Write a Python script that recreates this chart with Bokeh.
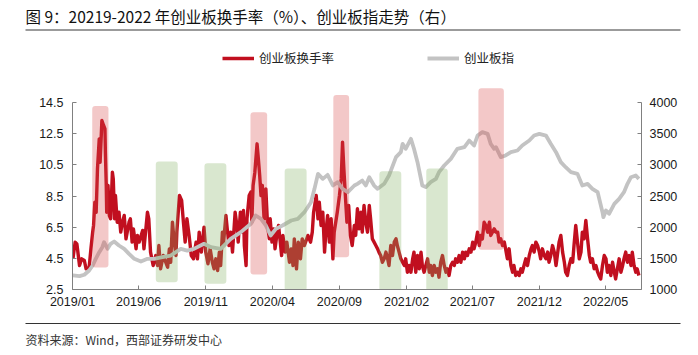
import pandas as pd
from bokeh.plotting import figure
from bokeh.layouts import column
from bokeh.models import (Range1d, LinearAxis, FixedTicker, DatetimeTickFormatter,
                          Label, Legend, LegendItem, ColumnDataSource)
from bokeh.embed import file_html
from bokeh.resources import INLINE

# ---------------- data ----------------
turnover_dates = [
    "2019-01-02", "2019-01-07", "2019-01-11", "2019-01-17", "2019-01-22", "2019-01-28", "2019-02-01", "2019-02-08",
    "2019-02-12", "2019-02-16", "2019-02-18", "2019-02-21", "2019-02-24", "2019-02-27", "2019-03-03", "2019-03-05",
    "2019-03-07", "2019-03-09", "2019-03-13", "2019-03-16", "2019-03-17", "2019-03-19", "2019-03-20", "2019-03-23",
    "2019-03-26", "2019-03-29", "2019-04-02", "2019-04-04", "2019-04-07", "2019-04-09", "2019-04-13", "2019-04-17",
    "2019-04-21", "2019-04-25", "2019-04-29", "2019-05-03", "2019-05-10", "2019-05-13", "2019-05-17", "2019-05-20",
    "2019-05-23", "2019-05-26", "2019-05-29", "2019-06-02", "2019-06-10", "2019-06-13", "2019-06-21", "2019-06-24",
    "2019-06-28", "2019-07-04", "2019-07-10", "2019-07-14", "2019-07-17", "2019-07-21", "2019-07-27", "2019-08-06",
    "2019-08-10", "2019-08-13", "2019-08-17", "2019-08-21", "2019-08-25", "2019-08-27", "2019-09-02", "2019-09-07",
    "2019-09-11", "2019-09-15", "2019-09-19", "2019-09-24", "2019-09-29", "2019-10-04", "2019-10-10", "2019-10-13",
    "2019-10-17", "2019-10-22", "2019-10-28", "2019-11-01", "2019-11-06", "2019-11-11", "2019-11-16", "2019-11-20",
    "2019-11-24", "2019-11-28", "2019-12-02", "2019-12-05", "2019-12-09", "2019-12-11", "2019-12-17", "2019-12-20",
    "2019-12-24", "2019-12-28", "2020-01-01", "2020-01-07", "2020-01-11", "2020-01-14", "2020-01-19", "2020-01-22",
    "2020-01-26", "2020-01-28", "2020-02-01", "2020-02-03", "2020-02-08", "2020-02-12", "2020-02-14", "2020-02-17",
    "2020-02-21", "2020-02-26", "2020-02-29", "2020-03-03", "2020-03-06", "2020-03-09", "2020-03-13", "2020-03-17",
    "2020-03-21", "2020-03-25", "2020-03-27", "2020-03-31", "2020-04-04", "2020-04-07", "2020-04-11", "2020-04-15",
    "2020-04-19", "2020-04-22", "2020-04-25", "2020-04-30", "2020-05-04", "2020-05-10", "2020-05-14", "2020-05-18",
    "2020-05-21", "2020-05-26", "2020-05-30", "2020-06-04", "2020-06-08", "2020-06-13", "2020-06-21", "2020-06-27",
    "2020-07-01", "2020-07-04", "2020-07-10", "2020-07-14", "2020-07-17", "2020-07-21", "2020-07-25", "2020-07-29",
    "2020-08-01", "2020-08-05", "2020-08-09", "2020-08-13", "2020-08-17", "2020-08-20", "2020-08-27", "2020-09-01",
    "2020-09-05", "2020-09-08", "2020-09-11", "2020-09-14", "2020-09-18", "2020-09-22", "2020-09-26", "2020-09-30",
    "2020-10-05", "2020-10-08", "2020-10-12", "2020-10-16", "2020-10-20", "2020-10-23", "2020-10-27", "2020-10-31",
    "2020-11-04", "2020-11-08", "2020-11-11", "2020-11-15", "2020-11-19", "2020-11-23", "2020-11-27", "2020-11-30",
    "2020-12-04", "2020-12-08", "2020-12-12", "2020-12-16", "2020-12-20", "2020-12-23", "2020-12-27", "2020-12-31",
    "2021-01-04", "2021-01-08", "2021-01-11", "2021-01-15", "2021-01-19", "2021-01-23", "2021-01-27", "2021-01-30",
    "2021-02-03", "2021-02-07", "2021-02-11", "2021-02-15", "2021-02-18", "2021-02-22", "2021-02-26", "2021-03-02",
    "2021-03-06", "2021-03-09", "2021-03-13", "2021-03-17", "2021-03-21", "2021-03-25", "2021-03-28", "2021-04-01",
    "2021-04-05", "2021-04-09", "2021-04-13", "2021-04-16", "2021-04-20", "2021-04-24", "2021-04-28", "2021-05-02",
    "2021-05-05", "2021-05-09", "2021-05-13", "2021-05-17", "2021-05-21", "2021-05-24", "2021-05-28", "2021-06-01",
    "2021-06-05", "2021-06-09", "2021-06-13", "2021-06-16", "2021-06-20", "2021-06-24", "2021-06-28", "2021-07-02",
    "2021-07-05", "2021-07-09", "2021-07-13", "2021-07-17", "2021-07-20", "2021-07-24", "2021-07-28", "2021-08-01",
    "2021-08-05", "2021-08-09", "2021-08-12", "2021-08-16", "2021-08-20", "2021-08-24", "2021-08-28", "2021-08-31",
    "2021-09-04", "2021-09-08", "2021-09-12", "2021-09-15", "2021-09-19", "2021-09-23", "2021-09-27", "2021-10-01",
    "2021-10-04", "2021-10-08", "2021-10-12", "2021-10-16", "2021-10-20", "2021-10-23", "2021-10-27", "2021-10-31",
    "2021-11-04", "2021-11-08", "2021-11-12", "2021-11-15", "2021-11-19", "2021-11-23", "2021-11-27", "2021-12-01",
    "2021-12-04", "2021-12-08", "2021-12-12", "2021-12-16", "2021-12-20", "2021-12-23", "2021-12-27", "2021-12-31",
    "2022-01-04", "2022-01-08", "2022-01-11", "2022-01-15", "2022-01-19", "2022-01-23", "2022-01-27", "2022-01-30",
    "2022-02-03", "2022-02-07", "2022-02-11", "2022-02-15", "2022-02-18", "2022-02-22", "2022-02-26", "2022-03-02",
    "2022-03-06", "2022-03-09", "2022-03-13", "2022-03-17", "2022-03-21", "2022-03-25", "2022-03-28", "2022-04-01",
    "2022-04-05", "2022-04-09", "2022-04-13", "2022-04-16", "2022-04-20", "2022-04-24", "2022-04-28", "2022-05-02",
    "2022-05-05", "2022-05-09", "2022-05-13", "2022-05-17", "2022-05-21", "2022-05-24", "2022-05-28", "2022-06-01",
    "2022-06-05", "2022-06-09", "2022-06-12", "2022-06-16", "2022-06-20", "2022-06-24", "2022-06-28", "2022-07-01",
    "2022-07-05", "2022-07-09", "2022-07-12", "2022-07-16",
]
turnover = [
    4.47, 5.54, 5.43, 4.04, 4.47, 4.36, 3.83, 3.93,
    5.11, 6.18, 6.61, 8.11, 7.46, 10.25, 12.17, 10.67,
    11.96, 13.35, 13.03, 12.81, 11.31, 9.18, 7.46, 9.18,
    7.25, 7.04, 10.03, 9.60, 7.04, 8.53, 6.82, 7.46,
    6.18, 6.82, 7.25, 5.75, 6.82, 7.04, 5.54, 6.39,
    5.75, 5.11, 5.97, 5.54, 6.29, 5.11, 7.46, 7.04,
    4.90, 4.04, 4.68, 4.04, 5.32, 3.83, 4.68, 3.93,
    5.11, 4.25, 6.82, 5.54, 4.68, 6.18, 8.53, 8.21,
    6.82, 5.54, 7.04, 5.97, 4.68, 4.47, 5.54, 4.47,
    6.18, 4.90, 6.50, 4.90, 4.15, 5.11, 4.25, 3.83,
    4.47, 3.72, 4.90, 4.04, 6.18, 5.32, 7.25, 6.39,
    5.32, 6.18, 4.90, 7.46, 6.61, 5.54, 7.46, 6.18,
    7.57, 5.32, 4.04, 7.04, 8.53, 8.75, 6.82, 9.18,
    10.03, 11.85, 10.89, 9.82, 8.53, 9.18, 7.04, 8.96,
    6.61, 5.75, 7.04, 5.54, 6.39, 5.11, 5.97, 6.61,
    5.54, 4.68, 5.97, 4.90, 5.54, 4.25, 5.11, 4.04,
    5.75, 3.83, 5.54, 4.47, 5.75, 5.32, 5.97, 5.54,
    6.18, 7.46, 8.53, 7.04, 8.11, 6.61, 7.46, 4.90,
    6.18, 7.25, 5.54, 7.04, 4.47, 6.18, 7.46, 8.53,
    9.60, 11.96, 10.25, 8.75, 6.82, 7.89, 5.97, 5.32,
    6.61, 5.97, 7.68, 6.39, 7.46, 6.18, 7.89, 6.82,
    6.18, 7.89, 7.04, 5.75, 5.54, 5.32, 5.11, 4.90,
    4.68, 4.25, 4.47, 4.90, 4.47, 4.04, 5.32, 4.68,
    5.54, 5.75, 5.32, 4.90, 4.47, 4.25, 4.04, 4.47,
    3.61, 4.04, 3.61, 4.47, 4.90, 3.61, 4.68, 3.83,
    4.90, 4.04, 3.61, 4.04, 4.47, 3.61, 4.04, 3.40,
    4.04, 3.61, 3.83, 3.29, 4.25, 4.68, 4.04, 3.61,
    3.83, 3.40, 4.04, 4.25, 4.04, 4.47, 4.25, 4.68,
    4.25, 4.90, 4.47, 4.90, 4.68, 5.11, 4.90, 5.54,
    5.11, 5.54, 6.18, 5.32, 5.97, 5.75, 6.82, 6.61,
    6.18, 6.82, 5.97, 6.18, 6.39, 6.18, 6.18, 5.54,
    5.75, 5.32, 5.54, 5.11, 4.47, 5.11, 4.04, 3.61,
    4.04, 3.40, 3.61, 3.40, 3.83, 3.61, 4.04, 4.47,
    4.04, 4.68, 5.11, 5.32, 4.90, 5.54, 5.32, 4.90,
    4.47, 5.11, 4.68, 4.47, 4.90, 4.25, 4.68, 5.32,
    4.90, 4.04, 4.68, 5.54, 5.97, 4.90, 4.25, 3.61,
    3.40, 4.04, 4.47, 4.25, 5.32, 6.61, 5.54, 4.47,
    4.90, 6.18, 5.75, 6.93, 5.75, 4.68, 4.25, 4.47,
    3.83, 4.04, 3.61, 3.40, 3.18, 4.04, 4.68, 4.47,
    3.61, 4.04, 3.40, 4.25, 3.61, 3.18, 3.83, 4.47,
    3.61, 4.04, 4.47, 4.90, 4.25, 4.68, 4.04, 4.90,
    4.04, 3.61, 3.83, 3.40,
]

index_dates = [
    "2019-01-02", "2019-01-17", "2019-01-28", "2019-02-08", "2019-02-16", "2019-02-23", "2019-03-03", "2019-03-10",
    "2019-03-14", "2019-03-22", "2019-03-29", "2019-04-06", "2019-04-17", "2019-04-29", "2019-05-10", "2019-05-22",
    "2019-06-06", "2019-06-21", "2019-07-06", "2019-07-25", "2019-08-13", "2019-09-05", "2019-09-20", "2019-10-05",
    "2019-10-28", "2019-11-13", "2019-12-05", "2019-12-28", "2020-01-20", "2020-02-12", "2020-02-23", "2020-03-06",
    "2020-03-17", "2020-03-28", "2020-04-09", "2020-04-24", "2020-05-14", "2020-05-29", "2020-06-13", "2020-06-28",
    "2020-07-06", "2020-07-14", "2020-07-25", "2020-08-05", "2020-08-17", "2020-08-28", "2020-09-08", "2020-09-20",
    "2020-10-05", "2020-10-12", "2020-10-23", "2020-10-31", "2020-11-08", "2020-11-19", "2020-11-27", "2020-12-12",
    "2020-12-23", "2021-01-08", "2021-01-19", "2021-01-23", "2021-01-30", "2021-02-11", "2021-02-18", "2021-02-26",
    "2021-03-09", "2021-03-17", "2021-03-28", "2021-04-09", "2021-04-16", "2021-04-28", "2021-05-13", "2021-05-28",
    "2021-06-13", "2021-06-24", "2021-07-05", "2021-07-13", "2021-07-24", "2021-08-05", "2021-08-12", "2021-08-20",
    "2021-08-24", "2021-09-04", "2021-09-15", "2021-09-27", "2021-10-12", "2021-10-23", "2021-11-08", "2021-11-19",
    "2021-12-01", "2021-12-16", "2021-12-27", "2022-01-08", "2022-01-19", "2022-01-30", "2022-02-11", "2022-02-26",
    "2022-03-09", "2022-03-21", "2022-04-01", "2022-04-13", "2022-04-24", "2022-04-26", "2022-05-02", "2022-05-09",
    "2022-05-21", "2022-06-01", "2022-06-12", "2022-06-20", "2022-06-28", "2022-07-09", "2022-07-16",
]
index_values = [
    1225, 1214, 1236, 1305, 1385, 1492, 1599, 1679,
    1759, 1652, 1733, 1770, 1706, 1652, 1572, 1492,
    1449, 1492, 1492, 1519, 1545, 1652, 1625, 1652,
    1733, 1679, 1652, 1813, 1920, 2054, 2187, 2134,
    2027, 1866, 1973, 2027, 2107, 2134, 2240, 2401,
    2615, 2855, 2775, 2839, 2668, 2722, 2615, 2561,
    2668, 2695, 2748, 2668, 2802, 2668, 2615, 2695,
    2829, 3123, 3203, 3337, 3257, 3417, 3257, 3043,
    2668, 2642, 2722, 2775, 2882, 2989, 3096, 3257,
    3283, 3390, 3310, 3470, 3524, 3497, 3337, 3257,
    3283, 3123, 3150, 3203, 3230, 3310, 3390, 3470,
    3497, 3470, 3337, 3203, 3043, 2962, 2882, 2855,
    2668, 2695, 2615, 2561, 2240, 2160, 2267, 2214,
    2374, 2454, 2561, 2695, 2802, 2829, 2775,
]

# highlighted periods (red = high-turnover phase, green = low-turnover phase)
shade_start = ["2019-02-15", "2019-07-10", "2019-10-29", "2020-02-11", "2020-04-29",
               "2020-08-18", "2020-12-01", "2021-03-18", "2021-07-15"]
shade_end = ["2019-03-24", "2019-08-29", "2019-12-18", "2020-03-20", "2020-06-18",
             "2020-09-23", "2021-01-20", "2021-05-06", "2021-09-11"]
shade_top = [14.27, 10.72, 10.61, 13.88, 10.27, 14.99, 10.09, 10.27, 15.42]
shade_bottom = [3.91, 2.97, 2.87, 3.46, 2.40, 4.57, 2.40, 2.40, 5.05]
shade_kind = ["high", "low", "low", "high", "low", "high", "low", "low", "high"]

x_tick_labels = ["2019/01", "2019/06", "2019/11", "2020/04", "2020/09",
                 "2021/02", "2021/07", "2021/12", "2022/05"]
left_ticks = [2.5, 4.5, 6.5, 8.5, 10.5, 12.5, 14.5]
right_ticks = [1000, 1500, 2000, 2500, 3000, 3500, 4000]

series_names = ["创业板换手率", "创业板指"]
title_text = "图 9：20219-2022 年创业板换手率（%）、创业板指走势（右）"
source_text = "资料来源：Wind，西部证券研发中心"

# ---------------- styling ----------------
RED = "#c10f1f"
GREY = "#c3c3c3"
SHADE = {"high": "#d84a4a", "low": "#80b060"}
AXIS_COLOR = "#808080"
CJK = "Noto Sans CJK SC"
LATIN = "Liberation Sans"
W = 698
HEAD_H, MAIN_H, FOOT_H = 38, 277, 40
TEXT_LEFT, RULE_LEFT, RULE_RIGHT = 25, 25, 680


def blank_strip(height):
    # a strip whose frame is the whole strip, in pixel units
    f = figure(width=W, height=height, x_range=Range1d(0, W), y_range=Range1d(0, height),
               x_axis_location=None, y_axis_location=None, output_backend="svg",
               toolbar_location=None, min_border=0, min_border_left=0, min_border_right=0,
               min_border_top=0, min_border_bottom=0, frame_align=False)
    f.outline_line_color = None
    f.xgrid.visible = False
    f.ygrid.visible = False
    f.background_fill_color = "white"
    f.border_fill_color = "white"
    return f


# header: title + rule
head = blank_strip(HEAD_H)
head.add_layout(Label(x=TEXT_LEFT, y=22.5, text=title_text, text_baseline="middle",
                      text_font=CJK, text_font_size="15.5px", text_color="#111111"))
head.segment(x0=[RULE_LEFT], y0=[8.5], x1=[RULE_RIGHT], y1=[8.5],
             line_color="#7a7a7a", line_width=1.5)

# main chart
p = figure(width=W, height=MAIN_H, x_axis_type="datetime",
           x_range=Range1d(pd.Timestamp("2019-01-01"), pd.Timestamp("2022-07-22")),
           y_range=Range1d(2.5, 2.5 + 251 / 15.58),
           output_backend="svg", toolbar_location=None, frame_align=False,
           min_border_left=72, min_border_right=57, min_border_top=0, min_border_bottom=26)
p.extra_y_ranges = {"idx": Range1d(1000, 1000 + 251 * 3000 / 187)}
p.outline_line_color = None
p.xgrid.visible = False
p.ygrid.visible = False
p.background_fill_color = "white"
p.border_fill_color = "white"

t_src = ColumnDataSource(dict(x=pd.to_datetime(turnover_dates), y=turnover))
i_src = ColumnDataSource(dict(x=pd.to_datetime(index_dates), y=index_values))
r_turn = p.line("x", "y", source=t_src, line_color=RED, line_width=3.4, line_join="round")
r_idx = p.line("x", "y", source=i_src, line_color=GREY, line_width=3.8, line_join="round",
               y_range_name="idx")

s_src = ColumnDataSource(dict(left=pd.to_datetime(shade_start), right=pd.to_datetime(shade_end),
                              top=shade_top, bottom=shade_bottom,
                              color=[SHADE[k] for k in shade_kind]))
p.quad(left="left", right="right", top="top", bottom="bottom", source=s_src,
       fill_color="color", fill_alpha=0.3, line_alpha=0, border_radius=3)

x_ticks = [pd.Timestamp(t.replace("/", "-") + "-01").value // 10**6 for t in x_tick_labels]
xa = p.xaxis[0]
xa.ticker = FixedTicker(ticks=x_ticks)
fmt = "%Y/%m"
xa.formatter = DatetimeTickFormatter(milliseconds=fmt, seconds=fmt, minsec=fmt, minutes=fmt,
                                     hourmin=fmt, hours=fmt, days=fmt, months=fmt, years=fmt)

ya = p.yaxis[0]
ya.ticker = FixedTicker(ticks=left_ticks)
ya.bounds = (2.5, 14.5)

ra = LinearAxis(y_range_name="idx", ticker=FixedTicker(ticks=right_ticks), bounds=(1000, 4000))
p.add_layout(ra, "right")

for ax in (xa, ya, ra):
    ax.axis_line_color = AXIS_COLOR
    ax.axis_line_width = 1
    ax.major_tick_line_color = AXIS_COLOR
    ax.major_tick_in = 4
    ax.major_tick_out = 0
    ax.minor_tick_line_color = None
    ax.major_label_text_font = LATIN
    ax.major_label_text_font_size = "12.5px"
    ax.major_label_text_color = "#1a1a1a"
xa.major_label_standoff = 5
ya.major_label_standoff = 9
ra.major_label_standoff = 8

legend = Legend(items=[LegendItem(label=series_names[0], renderers=[r_turn]),
                       LegendItem(label=series_names[1], renderers=[r_idx])],
                orientation="horizontal", location=(150, 222),
                border_line_alpha=0, background_fill_alpha=0, padding=0, margin=0,
                spacing=93, glyph_width=32, glyph_height=14, label_height=14,
                label_standoff=5, label_text_font=CJK, label_text_font_size="12.5px",
                label_text_color="#222222")
p.add_layout(legend)

# footer: rule + source note
foot = blank_strip(FOOT_H)
foot.segment(x0=[RULE_LEFT], y0=[32], x1=[RULE_RIGHT], y1=[32],
             line_color="#333333", line_width=1.2)
foot.add_layout(Label(x=TEXT_LEFT, y=16, text=source_text, text_baseline="middle",
                      text_font=CJK, text_font_size="12px", text_color="#333333"))

layout = column(head, p, foot, spacing=0)
open("out.html", "w").write(file_html(layout, INLINE))
